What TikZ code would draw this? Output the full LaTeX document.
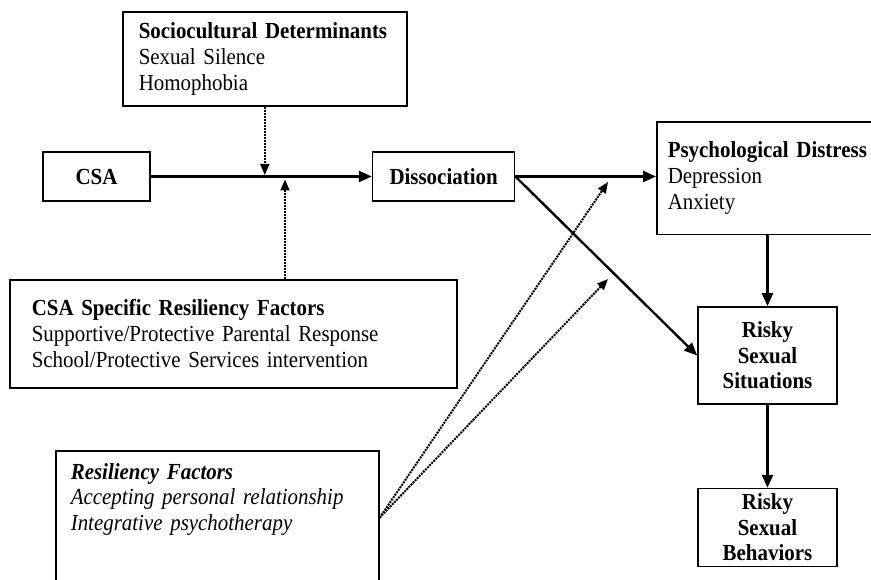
\documentclass[tikz,border=0pt]{standalone}
\usepackage{fontspec}
\setmainfont[FakeStretch=0.91]{Liberation Serif}
\usetikzlibrary{arrows.meta,positioning}

\tikzset{
  box/.style={draw, rectangle, line width=1.6pt, inner sep=4pt, font=\fontsize{23}{25.8}\selectfont},
  listbox/.style={box, align=left, anchor=north west},
  boldbox/.style={box, align=center, font=\fontsize{23}{25.5}\selectfont\bfseries},
  link/.style={line width=2.4pt, -{Triangle[length=13pt,width=11pt]}},
  modlink/.style={line width=2pt, densely dotted, -{Triangle[length=11pt,width=9pt]}}
}

\begin{document}
\begin{tikzpicture}[x=1pt, y=-1pt]
				\useasboundingbox (0,0) rectangle (871,580);
				
				\node (socio) [listbox, inner xsep=16pt, inner ysep=11pt, text width=252pt] at (122,11) {\textbf{Sociocultural Determinants}\\Sexual Silence\\Homophobia};
				\node (csa) [boldbox, minimum width=107pt, minimum height=49pt] at (96.5,176.5) {CSA};
				\node (dis) [boldbox, minimum width=142pt, minimum height=49pt, right=221pt of csa] {Dissociation};
				\node (psych) [listbox, inner xsep=11pt, inner ysep=20pt, text width=205pt] at (656,121) {\textbf{Psychological Distress}\\Depression\\Anxiety};
				\node (spec) [listbox, inner xsep=22pt, inner ysep=20pt, text width=403pt] at (9,279) {\textbf{CSA Specific Resiliency Factors}\\Supportive/Protective Parental Response\\School/Protective Services intervention};
				\node (resil) [listbox, inner xsep=15pt, inner ysep=12.5pt, text width=293pt, font=\fontsize{23}{25.5}\selectfont\itshape] at (55,450) {\textbf{Resiliency Factors}\\Accepting personal relationship\\Integrative psychotherapy\rule[-42pt]{0pt}{42pt}};
				\node (rsit) [boldbox, minimum width=139pt, minimum height=97pt] at (767.5,355.5) {Risky\\Sexual\\Situations};
				\node (rbeh) [boldbox, minimum width=139pt, minimum height=78pt, below=83pt of rsit] {Risky\\Sexual\\Behaviors};
				
				% Joints for the moderators
				\coordinate (sjoin) at (socio.south |- csa.east);
				\coordinate (cjoin) at (285,177);
				\coordinate (rtip1) at (608,182);
				\coordinate (rtip2) at (608,279);
				
				% Arrows
				\draw[link] (csa) -- (dis);
				\draw[link] (dis.east) -- (dis.east -| psych.west);
				\draw[link] (dis.east) -- (rsit.west);
				\draw[link] (psych.south -| rsit.north) -- (rsit.north);
				\draw[link] (rsit) -- (rbeh);
				
				% Dotted arrows
				\draw[modlink] (socio.south) -- ([yshift=1.5pt]sjoin);
				\draw[modlink] (spec.north -| cjoin) -- ([yshift=-2.5pt]cjoin);
				\draw[modlink] (resil.east) -- (rtip1);
				\draw[modlink] (resil.east) -- (rtip2);
				
			\end{tikzpicture}
\end{document}
